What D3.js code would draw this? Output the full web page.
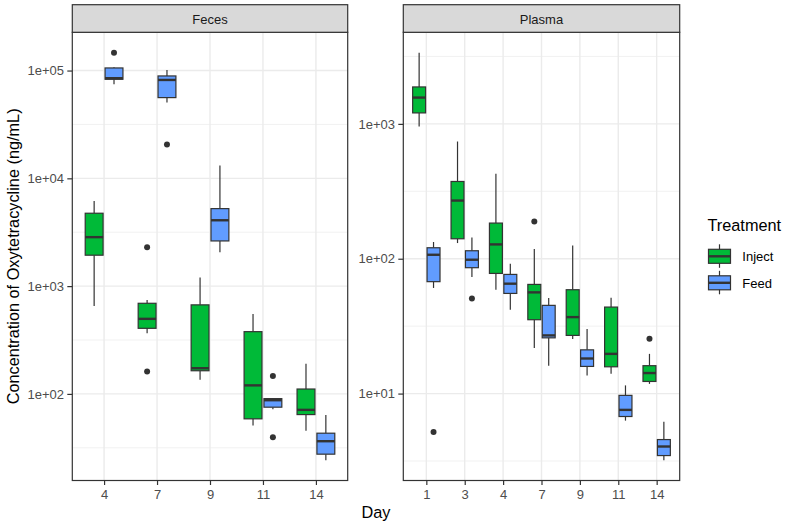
<!DOCTYPE html>
<html>
<head>
<meta charset="utf-8">
<script src="https://cdn.jsdelivr.net/npm/d3@7"></script>
<style>
  html, body { margin: 0; padding: 0; background: #ffffff; }
  svg { display: block; font-family: "Liberation Sans", Arial, Helvetica, sans-serif; }
</style>
</head>
<body>
<svg id="chart" width="785" height="528"></svg>
<script>
// ---------------- DATA ----------------
const facets = ["Feces", "Plasma"];
const treatments = ["Inject", "Feed"];
const treatmentColors = ["#00BA38", "#619CFF"];

const fecesDays = ["4", "7", "9", "11", "14"];
const plasmaDays = ["1", "3", "4", "7", "9", "11", "14"];

const fecesTicks = [1e2, 1e3, 1e4, 1e5];
const plasmaTicks = [1e1, 1e2, 1e3];

// box stats per day: [lower whisker, Q1, median, Q3, upper whisker]
const fecesInjectStats = [
  [655, 1936, 2846, 4745, 6166],
  [365, 406, 497, 693, 745],
  [135, 164, 173, 670, 1199],
  [50.8, 58.7, 120, 378, 552],
  [45.4, 64.3, 71.1, 111, 190]
];
const fecesInjectOutliers = [[], [2296, 161], [], [], []];

const fecesFeedStats = [
  [74600, 83000, 84900, 105700, 107400],
  [50400, 56100, 81800, 89100, 101400],
  [2060, 2625, 4083, 5236, 13130],
  [72.1, 75.3, 87.4, 90.4, 91],
  [24.3, 27.6, 36.4, 43.2, 63.8]
];
const fecesFeedOutliers = [[146500], [20560], [], [146.8, 39.6], []];

const plasmaInjectStats = [
  [955, 1206, 1567, 1879, 3373],
  [130.7, 140.6, 270, 374, 740],
  [58.9, 77.8, 127.7, 183.8, 427],
  [21.8, 35.3, 56.3, 64.5, 118],
  [25.4, 27, 36.9, 58.9, 125.5],
  [14, 15.8, 19.7, 43.8, 51.4],
  [11.8, 12.3, 14.2, 16.1, 19.7]
];
const plasmaInjectOutliers = [[], [], [], [188.9], [], [], [25.5]];

const plasmaFeedStats = [
  [60.7, 67.6, 107, 120.6, 133],
  [73.2, 85.8, 98.3, 114.6, 143.8],
  [41.9, 55.3, 65.3, 76.5, 91.8],
  [16.1, 25.9, 27, 45.1, 51.2],
  [13.6, 15.9, 18.2, 21.1, 30.1],
  [6.3, 6.76, 7.57, 9.7, 11.5],
  [3.21, 3.47, 4.05, 4.56, 6.17]
];
const plasmaFeedOutliers = [[5.2], [50.8], [], [], [], [], []];

// ---------------- LAYOUT ----------------
const svg = d3.select("#chart");
const panelTop = 32.3, panelBottom = 480.5, stripTop = 4.7;
const panelX = [[72.3, 347.7], [403.3, 679.7]];
const textSize = 13, titleSize = 16.3;

const facetData = [
  { name: facets[0], days: fecesDays, ticks: fecesTicks,
    stats: [fecesInjectStats, fecesFeedStats], outliers: [fecesInjectOutliers, fecesFeedOutliers] },
  { name: facets[1], days: plasmaDays, ticks: plasmaTicks,
    stats: [plasmaInjectStats, plasmaFeedStats], outliers: [plasmaInjectOutliers, plasmaFeedOutliers] }
];

const fmt = v => {
  const e = Math.round(Math.log10(v));
  return "1e" + (e >= 0 ? "+" : "-") + String(Math.abs(e)).padStart(2, "0");
};

const grey20 = "#333333";

facetData.forEach((f, fi) => {
  const [x0, x1] = panelX[fi];
  // y extent of data with 5% expansion in log space
  const all = [];
  f.stats.forEach(s => s.forEach(b => all.push(...b)));
  f.outliers.forEach(s => s.forEach(o => all.push(...o)));
  const lmin = Math.log10(d3.min(all)), lmax = Math.log10(d3.max(all));
  const ex = (lmax - lmin) * 0.05;
  const y = d3.scaleLog().domain([Math.pow(10, lmin - ex), Math.pow(10, lmax + ex)]).range([panelBottom, panelTop]);
  const x = d3.scalePoint().domain(f.days).range([x0, x1]).padding(0.6);
  const step = x.step();
  const boxW = 0.3375 * step, dodge = 0.1875 * step;

  const g = svg.append("g");
  g.append("rect").attr("x", x0).attr("y", panelTop).attr("width", x1 - x0).attr("height", panelBottom - panelTop).attr("fill", "#ffffff");

  // minor grid
  const minors = [];
  const [d0, d1] = y.domain();
  for (let e = Math.floor(Math.log10(d0)); e <= Math.ceil(Math.log10(d1)); e++) {
    const v = Math.pow(10, e + 0.5);
    if (v > d0 && v < d1) minors.push(v);
  }
  g.selectAll(".minor").data(minors).join("line")
    .attr("x1", x0).attr("x2", x1).attr("y1", d => y(d)).attr("y2", d => y(d))
    .attr("stroke", "#EBEBEB").attr("stroke-width", 0.7);
  g.selectAll(".majy").data(f.ticks).join("line")
    .attr("x1", x0).attr("x2", x1).attr("y1", d => y(d)).attr("y2", d => y(d))
    .attr("stroke", "#EBEBEB").attr("stroke-width", 1.4);
  g.selectAll(".majx").data(f.days).join("line")
    .attr("x1", d => x(d)).attr("x2", d => x(d)).attr("y1", panelTop).attr("y2", panelBottom)
    .attr("stroke", "#EBEBEB").attr("stroke-width", 1.4);

  // boxes
  treatments.forEach((t, ti) => {
    const off = ti === 0 ? -dodge : dodge;
    f.days.forEach((d, di) => {
      const [lo, q1, med, q3, hi] = f.stats[ti][di];
      const cx = x(d) + off;
      g.append("line").attr("x1", cx).attr("x2", cx).attr("y1", y(hi)).attr("y2", y(q3))
        .attr("stroke", grey20).attr("stroke-width", 1.2);
      g.append("line").attr("x1", cx).attr("x2", cx).attr("y1", y(q1)).attr("y2", y(lo))
        .attr("stroke", grey20).attr("stroke-width", 1.2);
      g.append("rect").attr("x", cx - boxW / 2).attr("width", boxW)
        .attr("y", y(q3)).attr("height", Math.max(0.5, y(q1) - y(q3)))
        .attr("fill", treatmentColors[ti]).attr("stroke", grey20).attr("stroke-width", 1.2);
      g.append("line").attr("x1", cx - boxW / 2).attr("x2", cx + boxW / 2).attr("y1", y(med)).attr("y2", y(med))
        .attr("stroke", grey20).attr("stroke-width", 2.4);
      f.outliers[ti][di].forEach(o => {
        g.append("circle").attr("cx", cx).attr("cy", y(o)).attr("r", 3).attr("fill", grey20);
      });
    });
  });

  // panel border
  g.append("rect").attr("x", x0).attr("y", panelTop).attr("width", x1 - x0).attr("height", panelBottom - panelTop)
    .attr("fill", "none").attr("stroke", grey20).attr("stroke-width", 1.2);

  // strip
  g.append("rect").attr("x", x0).attr("y", stripTop).attr("width", x1 - x0).attr("height", panelTop - stripTop)
    .attr("fill", "#D9D9D9").attr("stroke", grey20).attr("stroke-width", 1.2);
  g.append("text").attr("x", (x0 + x1) / 2).attr("y", 24)
    .attr("text-anchor", "middle").attr("font-size", textSize).attr("fill", "#1A1A1A").text(f.name);

  // y axis
  const ya = d3.axisLeft(y).tickValues(f.ticks).tickFormat(fmt).tickSize(5).tickPadding(3.3);
  const yg = svg.append("g").attr("transform", `translate(${x0},0)`).call(ya);
  yg.select(".domain").remove();
  yg.selectAll(".tick line").attr("stroke", grey20).attr("stroke-width", 1.2);
  yg.selectAll(".tick text").attr("fill", "#4D4D4D").attr("font-size", textSize)
    .attr("font-family", "Liberation Sans, Arial, sans-serif");

  // x axis
  const xa = d3.axisBottom(x).tickSize(4.5).tickPadding(5);
  const xg = svg.append("g").attr("transform", `translate(0,${panelBottom})`).call(xa);
  xg.select(".domain").remove();
  xg.selectAll(".tick line").attr("stroke", grey20).attr("stroke-width", 1.2);
  xg.selectAll(".tick text").attr("fill", "#4D4D4D").attr("font-size", textSize)
    .attr("font-family", "Liberation Sans, Arial, sans-serif");
});

// axis titles
svg.append("text").attr("transform", `translate(18.5,${(panelTop + panelBottom) / 2}) rotate(-90)`)
  .attr("text-anchor", "middle").attr("font-size", titleSize).attr("fill", "#000")
  .text("Concentration of Oxytetracycline (ng/mL)");
svg.append("text").attr("x", (panelX[0][0] + panelX[1][1]) / 2).attr("y", 518.2)
  .attr("text-anchor", "middle").attr("font-size", titleSize).attr("fill", "#000").text("Day");

// legend
const lg = svg.append("g");
lg.append("text").attr("x", 707.5).attr("y", 230.7).attr("font-size", titleSize).attr("fill", "#000").text("Treatment");
const keyCy = [256.3, 282.8];
treatments.forEach((t, i) => {
  const cx = 719.5, cy = keyCy[i];
  lg.append("line").attr("x1", cx).attr("x2", cx).attr("y1", cy - 12).attr("y2", cy + 11.5)
    .attr("stroke", grey20).attr("stroke-width", 1.2);
  lg.append("rect").attr("x", cx - 11).attr("y", cy - 7).attr("width", 22).attr("height", 14)
    .attr("fill", treatmentColors[i]).attr("stroke", grey20).attr("stroke-width", 1.2);
  lg.append("line").attr("x1", cx - 11).attr("x2", cx + 11).attr("y1", cy).attr("y2", cy)
    .attr("stroke", grey20).attr("stroke-width", 2.4);
  lg.append("text").attr("x", 742.3).attr("y", cy + 4.7).attr("font-size", textSize).attr("fill", "#000").text(t);
});
</script>
</body>
</html>
